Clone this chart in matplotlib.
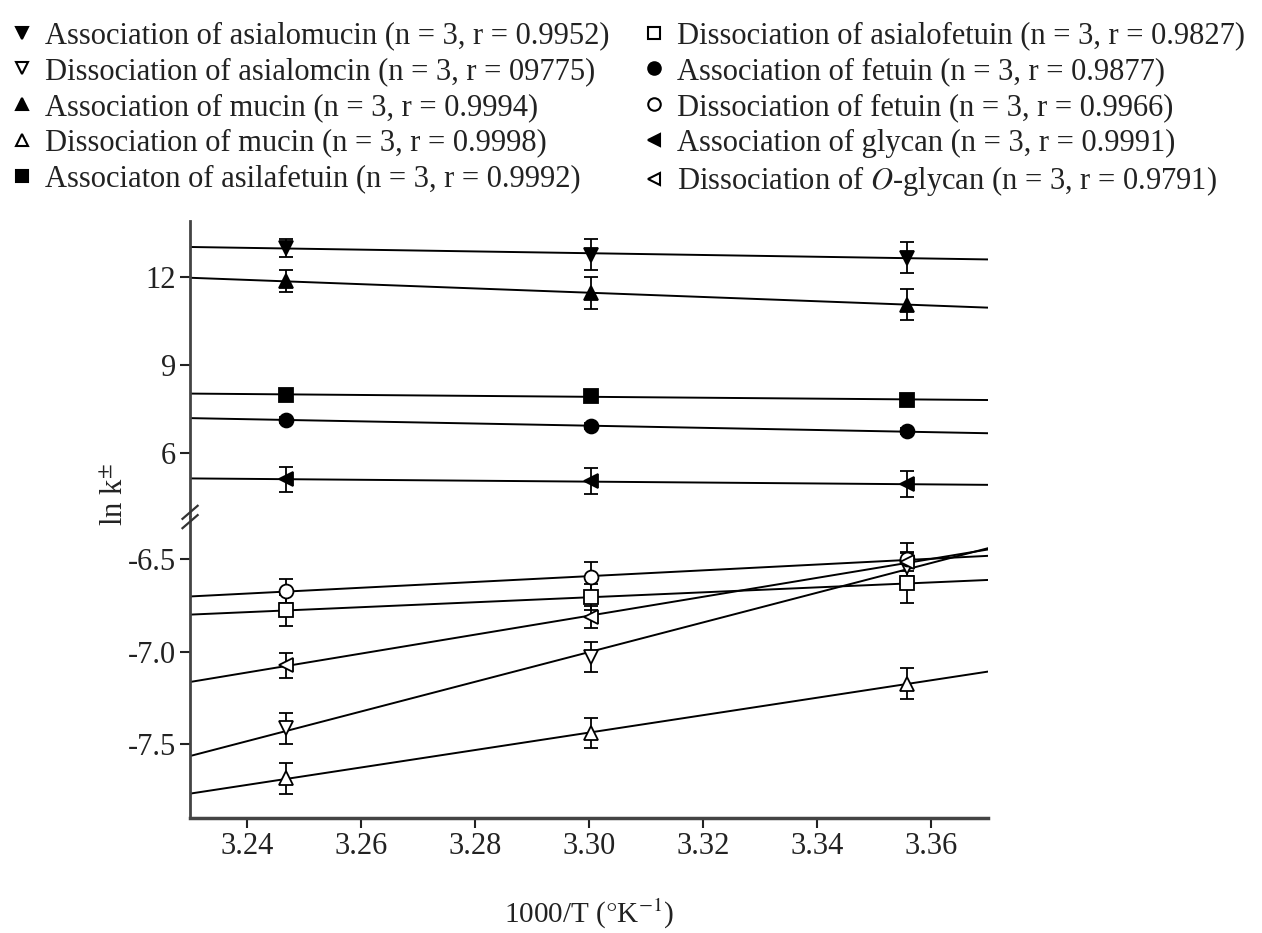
import matplotlib
matplotlib.use("Agg")
import matplotlib.pyplot as plt
from matplotlib.lines import Line2D
import numpy as np

plt.rcParams['font.family'] = ['Liberation Serif', 'DejaVu Serif']
plt.rcParams['mathtext.fontset'] = 'stix'
plt.rcParams['axes.unicode_minus'] = False

# 1000/T for 35, 30, 25 degC
x_vals = [3.2468, 3.3003, 3.3557]

# ln k values (upper panel: association, lower: dissociation)
assoc_asialomucin = [12.98, 12.75, 12.65]
assoc_asialomucin_err = [0.31, 0.54, 0.52]
diss_asialomucin = [-7.415, -7.028, -6.54]
diss_asialomucin_err = [0.086, 0.083, 0.08]
assoc_mucin = [11.84, 11.45, 11.05]
assoc_mucin_err = [0.37, 0.55, 0.54]
diss_mucin = [-7.686, -7.442, -7.172]
diss_mucin_err = [0.086, 0.081, 0.084]
assoc_asialofetuin = [7.99, 7.93, 7.82]
assoc_asialofetuin_err = [0.1, 0.1, 0.1]
diss_asialofetuin = [-6.776, -6.705, -6.63]
diss_asialofetuin_err = [0.086, 0.07, 0.108]
assoc_fetuin = [7.14, 6.91, 6.74]
assoc_fetuin_err = [0.1, 0.1, 0.1]
diss_fetuin = [-6.671, -6.596, -6.50]
diss_fetuin_err = [0.065, 0.084, 0.087]
assoc_glycan = [5.11, 5.04, 4.94]
assoc_glycan_err = [0.42, 0.44, 0.44]
diss_oglycan = [-7.073, -6.812, -6.515]
diss_oglycan_err = [0.068, 0.06, 0.05]

labels = [
    "Association of asialomucin (n = 3, r = 0.9952)",
    "Dissociation of asialomcin (n = 3, r = 09775)",
    "Association of mucin (n = 3, r = 0.9994)",
    "Dissociation of mucin (n = 3, r = 0.9998)",
    "Associaton of asilafetuin (n = 3, r = 0.9992)",
    "Dissociation of asialofetuin (n = 3, r = 0.9827)",
    "Association of fetuin (n = 3, r = 0.9877)",
    "Dissociation of fetuin (n = 3, r = 0.9966)",
    "Association of glycan (n = 3, r = 0.9991)",
    r"Dissociation of $\mathit{O}$-glycan (n = 3, r = 0.9791)",
]

x_ticks = [3.24, 3.26, 3.28, 3.30, 3.32, 3.34, 3.36]
upper_ticks = [6, 9, 12]
lower_ticks = [-6.5, -7.0, -7.5]

# (values, errors, marker, filled, panel)
series = [
    (assoc_asialomucin, assoc_asialomucin_err, 'v', True, 'up'),
    (diss_asialomucin, diss_asialomucin_err, 'v', False, 'low'),
    (assoc_mucin, assoc_mucin_err, '^', True, 'up'),
    (diss_mucin, diss_mucin_err, '^', False, 'low'),
    (assoc_asialofetuin, assoc_asialofetuin_err, 's', True, 'up'),
    (diss_asialofetuin, diss_asialofetuin_err, 's', False, 'low'),
    (assoc_fetuin, assoc_fetuin_err, 'o', True, 'up'),
    (diss_fetuin, diss_fetuin_err, 'o', False, 'low'),
    (assoc_glycan, assoc_glycan_err, '<', True, 'up'),
    (diss_oglycan, diss_oglycan_err, '<', False, 'low'),
]

FS = 22

fig = plt.figure(figsize=(12.62, 9.33), dpi=100)
left, width = 0.1506, 0.6323
ax_up = fig.add_axes([left, 0.4459, width, 0.3172])
ax_low = fig.add_axes([left, 0.1233, width, 0.3226])

xlim = (3.23, 3.37)
xx = np.array(xlim)
for vals, errs, m, filled, panel in series:
    ax = ax_up if panel == 'up' else ax_low
    slope, icpt = np.polyfit(x_vals, vals, 1)
    ax.plot(xx, slope * xx + icpt, color='black', lw=1.4, zorder=2)
    ax.errorbar(x_vals, vals, yerr=errs, fmt=m, ms=10,
                mfc='black' if filled else 'white', mec='black', mew=1.3,
                ecolor='black', elinewidth=1.3, capsize=5, capthick=1.5, zorder=3)

for ax in (ax_up, ax_low):
    ax.set_xlim(*xlim)
    ax.spines['top'].set_visible(False)
    ax.spines['right'].set_visible(False)
    ax.spines['left'].set_linewidth(2)
    ax.spines['left'].set_color('#444444')
    ax.spines['bottom'].set_linewidth(2.5)
    ax.spines['bottom'].set_color('#444444')
    ax.tick_params(direction='out', length=7, width=1.5, labelsize=FS,
                   labelcolor='#222222', color='#222222', pad=3)

ax_up.set_ylim(3.83, 13.89)
ax_up.spines['bottom'].set_visible(False)
ax_up.set_xticks([])
ax_up.set_yticks(upper_ticks)
ax_up.set_yticklabels([str(t) for t in upper_ticks])

ax_low.set_ylim(-7.90, -6.27)
ax_low.set_yticks(lower_ticks)
ax_low.set_yticklabels([f"{t:.1f}" for t in lower_ticks])
ax_low.set_xticks(x_ticks)
ax_low.set_xticklabels([f"{t:.2f}" for t in x_ticks])

# axis break marks
bx = left
by = 0.4459
for dy in (-0.005, 0.005):
    fig.add_artist(Line2D([bx - 0.006, bx + 0.006], [by + dy - 0.007, by + dy + 0.007],
                          color='#333333', lw=1.6, transform=fig.transFigure))

fig.text(0.091, 0.47, r"ln k$^{\pm}$", rotation=90, ha='center', va='center',
         fontsize=FS, color='#222222')
fig.text(left + width / 2, 0.02, r"1000/T ($\degree$K$^{-1}$)", ha='center',
         va='center', fontsize=21, color='#222222')

handles = [Line2D([], [], ls='none', marker=m, ms=9, color='black',
                  mfc='black' if filled else 'white', mec='black', mew=1.5)
           for _, _, m, filled, _ in series]
fig.legend(handles, labels, ncol=2, loc='upper left', bbox_to_anchor=(-0.004, 0.995),
           frameon=False, fontsize=FS, handlelength=0.7, handletextpad=0.4,
           labelspacing=0.22, columnspacing=1.1, borderpad=0.05,
           labelcolor='#222222')

fig.savefig("out.png", dpi=100)
